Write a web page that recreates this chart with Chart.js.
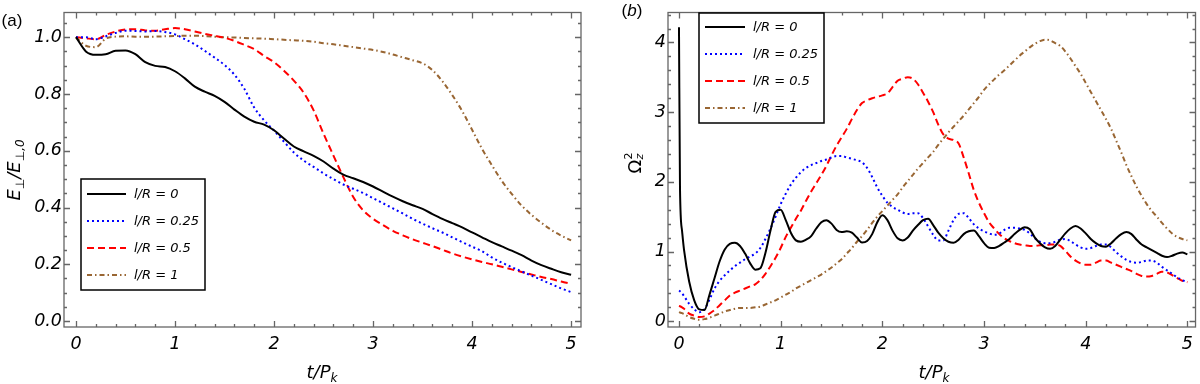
<!DOCTYPE html>
<html>
<head>
<meta charset="utf-8">
<script src="https://cdn.jsdelivr.net/npm/chart.js@4/dist/chart.umd.min.js"></script>
<style>
  html, body { margin: 0; padding: 0; background: #fff; }
  #wrap { position: relative; width: 1200px; height: 384px; overflow: hidden; font-family: "DejaVu Sans", sans-serif; }
  .panel { position: absolute; top: 0; width: 600px; height: 384px; }
  .lbl { position: absolute; white-space: nowrap; color: #000; line-height: 1; transform: translate(-50%, -50%); }
  .ttl { font-size: 18px; font-style: italic; }
  .rot { transform: translate(-50%, -50%) rotate(-90deg); }
  .tag { font-family: "Liberation Sans", Arial, sans-serif; font-size: 17px; }
  .sub { font-size: 12px; position: relative; top: 4px; }
  .stack { display: inline-flex; flex-direction: column; font-size: 11px; line-height: 1; vertical-align: middle; position: relative; top: -2px; }
</style>
</head>
<body>
<div id="wrap">
  <div class="panel" style="left:0"><canvas id="chartA" width="600" height="384"></canvas></div>
  <div class="panel" style="left:600px"><canvas id="chartB" width="600" height="384"></canvas></div>

  <span class="lbl tag" style="left:12px;top:20px">(a)</span>
  <span class="lbl tag" style="left:632px;top:10px">(<i>b</i>)</span>
  <span class="lbl ttl rot" style="left:14px;top:170px">E<span class="sub">⊥</span>/E<span class="sub">⊥,0</span></span>
  <span class="lbl ttl" style="left:322px;top:372px">t/P<span class="sub">k</span></span>
  <span class="lbl ttl rot" style="left:636px;top:163px"><span style="font-style:normal">Ω</span><span class="stack"><span style="font-style:normal">2</span><span>z</span></span></span>
  <span class="lbl ttl" style="left:934px;top:372px">t/P<span class="sub">k</span></span>
</div>

<script>
// ---- panel (a): E_perp / E_perp,0 ----
const tA = [
  0, 0.1, 0.2, 0.3, 0.4, 0.5, 0.6, 0.7, 0.8, 0.9,
  1.0, 1.1, 1.2, 1.3, 1.4, 1.5, 1.6, 1.7, 1.8, 1.9,
  2.0, 2.1, 2.2, 2.3, 2.4, 2.5, 2.6, 2.7, 2.8, 2.9,
  3.0, 3.1, 3.2, 3.3, 3.4, 3.5, 3.6, 3.7, 3.8, 3.9,
  4.0, 4.1, 4.2, 4.3, 4.4, 4.5, 4.6, 4.7, 4.8, 4.9,
  5.0
];
const blackA = [
  1.0, 0.95, 0.938, 0.94, 0.952, 0.953, 0.94, 0.912, 0.899, 0.895,
  0.88, 0.855, 0.826, 0.808, 0.793, 0.772, 0.745, 0.72, 0.702, 0.692,
  0.672, 0.643, 0.615, 0.598, 0.582, 0.562, 0.537, 0.516, 0.503, 0.49,
  0.474, 0.456, 0.438, 0.422, 0.408, 0.395, 0.377, 0.36, 0.345, 0.33,
  0.312, 0.295, 0.278, 0.263, 0.248, 0.232, 0.213, 0.197, 0.184, 0.172,
  0.163
];
const blueA = [
  1.0, 1.0, 0.993, 1.003, 1.015, 1.023, 1.022, 1.02, 1.022, 1.018,
  1.01, 0.993, 0.975, 0.952, 0.928, 0.902, 0.868, 0.818, 0.752, 0.707,
  0.671, 0.632, 0.594, 0.565, 0.543, 0.52, 0.5, 0.481, 0.466, 0.451,
  0.433, 0.415, 0.397, 0.379, 0.36, 0.343, 0.327, 0.312, 0.295, 0.278,
  0.262, 0.246, 0.224, 0.206, 0.19, 0.175, 0.16, 0.145, 0.13, 0.115,
  0.102
];
const redA = [
  1.0, 0.996, 0.993, 1.008, 1.02, 1.027, 1.028, 1.024, 1.023, 1.028,
  1.032, 1.028, 1.02, 1.012, 1.005, 0.998, 0.987, 0.973, 0.958, 0.934,
  0.912, 0.882, 0.847, 0.804, 0.742, 0.66, 0.583, 0.507, 0.437, 0.39,
  0.36, 0.338, 0.318, 0.302, 0.288, 0.276, 0.264, 0.251, 0.238, 0.227,
  0.217, 0.208, 0.2, 0.191, 0.182, 0.173, 0.164, 0.155, 0.148, 0.139,
  0.131
];
const brownA = [
  1.0, 0.97, 0.965, 0.995, 1.002, 1.003, 1.002, 1.002, 1.002, 1.003,
  1.004, 1.005, 1.005, 1.004, 1.002, 1.0, 0.999, 0.997, 0.996, 0.995,
  0.993, 0.991, 0.989, 0.987, 0.984, 0.979, 0.975, 0.97, 0.965, 0.96,
  0.955, 0.948, 0.939, 0.929, 0.919, 0.908, 0.884, 0.845, 0.796, 0.74,
  0.674, 0.607, 0.549, 0.494, 0.448, 0.407, 0.374, 0.346, 0.321, 0.301,
  0.284
];

// ---- panel (b): Omega_z^2 ----
const tB = [
  0, 0.01, 0.03, 0.05, 0.1, 0.15, 0.2, 0.25, 0.3, 0.35, 0.4, 0.45,
  0.5, 0.55, 0.6, 0.65, 0.7, 0.75, 0.8, 0.85, 0.9, 0.95,
  1.0, 1.05, 1.1, 1.15, 1.2, 1.25, 1.3, 1.35, 1.4, 1.45,
  1.5, 1.55, 1.6, 1.65, 1.7, 1.75, 1.8, 1.85, 1.9, 1.95,
  2.0, 2.05, 2.1, 2.15, 2.2, 2.25, 2.3, 2.35, 2.4, 2.45,
  2.5, 2.55, 2.6, 2.65, 2.7, 2.75, 2.8, 2.85, 2.9, 2.95,
  3.0, 3.05, 3.1, 3.15, 3.2, 3.25, 3.3, 3.35, 3.4, 3.45,
  3.5, 3.55, 3.6, 3.65, 3.7, 3.75, 3.8, 3.85, 3.9, 3.95,
  4.0, 4.05, 4.1, 4.15, 4.2, 4.25, 4.3, 4.35, 4.4, 4.45,
  4.5, 4.55, 4.6, 4.65, 4.7, 4.75, 4.8, 4.85, 4.9, 4.95,
  5.0
];
const blackB = [
  4.22, 1.9, 1.3, 1.02, 0.57, 0.3, 0.17, 0.16, 0.38, 0.62, 0.86, 1.03,
  1.11, 1.125, 1.08, 0.97, 0.83, 0.74, 0.76, 0.98, 1.3, 1.57,
  1.6, 1.45, 1.27, 1.16, 1.14, 1.17, 1.22, 1.33, 1.42, 1.45,
  1.4, 1.31, 1.28, 1.29, 1.27, 1.2, 1.13, 1.15, 1.25, 1.42,
  1.52, 1.45, 1.3, 1.19, 1.16, 1.2, 1.3, 1.38, 1.45, 1.47,
  1.38, 1.27, 1.19, 1.14, 1.125, 1.17, 1.25, 1.29, 1.3, 1.22,
  1.12, 1.055, 1.05, 1.08, 1.13, 1.18, 1.25, 1.31, 1.35, 1.32,
  1.2, 1.12, 1.06, 1.04, 1.08, 1.17, 1.26, 1.33, 1.365, 1.33,
  1.26, 1.18, 1.12, 1.08, 1.07, 1.12, 1.19, 1.25, 1.28, 1.25,
  1.17, 1.1, 1.06, 1.02, 0.98, 0.94, 0.92, 0.94, 0.97, 0.985,
  0.96
];
const blueB = [
  0.44, 0.43, 0.4, 0.36, 0.25, 0.17, 0.13, 0.17, 0.31, 0.47, 0.58, 0.66,
  0.73, 0.79, 0.84, 0.89, 0.93, 0.97, 1.05, 1.18, 1.33, 1.5,
  1.68, 1.83, 1.96, 2.06, 2.14, 2.2, 2.24, 2.27, 2.3, 2.32,
  2.35, 2.37, 2.37, 2.35, 2.33, 2.31, 2.28, 2.2, 2.07, 1.92,
  1.8, 1.7, 1.64, 1.6, 1.56, 1.54, 1.55, 1.55, 1.48, 1.36,
  1.24, 1.16, 1.16, 1.3, 1.45, 1.54, 1.55, 1.48, 1.39, 1.33,
  1.29, 1.26, 1.24, 1.26, 1.31, 1.34, 1.34, 1.33, 1.31, 1.26,
  1.19, 1.14, 1.12, 1.12, 1.14, 1.17, 1.18, 1.15, 1.1, 1.06,
  1.04, 1.05, 1.08, 1.1, 1.1, 1.06, 0.99, 0.93, 0.88, 0.85,
  0.84, 0.85, 0.87, 0.87, 0.84, 0.78, 0.73, 0.68, 0.63, 0.59,
  0.56
];
const redB = [
  0.22, 0.215, 0.2, 0.18, 0.11, 0.08, 0.06, 0.07, 0.11, 0.16, 0.23, 0.3,
  0.37, 0.41, 0.44, 0.47, 0.5, 0.53, 0.59, 0.68, 0.79, 0.91,
  1.05, 1.21, 1.34, 1.47, 1.59, 1.73, 1.86, 1.98, 2.1, 2.23,
  2.38, 2.52, 2.64, 2.76, 2.9, 3.03, 3.13, 3.17, 3.2, 3.22,
  3.24, 3.27, 3.36, 3.45, 3.48, 3.5, 3.48, 3.4, 3.28, 3.15,
  3.0, 2.82, 2.68, 2.62, 2.6, 2.55, 2.35, 2.12, 1.88, 1.7,
  1.55, 1.42, 1.33, 1.25, 1.19, 1.15, 1.12, 1.1, 1.09, 1.08,
  1.08, 1.09, 1.09, 1.1, 1.1, 1.08, 1.01, 0.93, 0.87, 0.83,
  0.81, 0.81, 0.84, 0.87, 0.87, 0.84, 0.81, 0.78, 0.75, 0.72,
  0.68, 0.65, 0.64, 0.65, 0.68, 0.71, 0.7, 0.66, 0.62, 0.58,
  0.56
];
const brownB = [
  0.13, 0.125, 0.115, 0.1, 0.06, 0.035, 0.02, 0.03, 0.05, 0.08, 0.11, 0.14,
  0.16, 0.18, 0.19, 0.19, 0.19, 0.2, 0.21, 0.24, 0.27, 0.3,
  0.34, 0.38, 0.42, 0.47, 0.51, 0.55, 0.59, 0.63, 0.67, 0.72,
  0.77, 0.83, 0.89, 0.97, 1.05, 1.14, 1.22, 1.31, 1.41, 1.5,
  1.58, 1.66, 1.74, 1.82, 1.92, 2.01, 2.1, 2.19, 2.27, 2.35,
  2.43, 2.53, 2.62, 2.71, 2.79, 2.87, 2.95, 3.04, 3.13, 3.22,
  3.32, 3.4, 3.47, 3.54, 3.6, 3.67, 3.74, 3.81, 3.87, 3.93,
  3.98, 4.02, 4.04, 4.03, 3.99, 3.95, 3.87, 3.77, 3.66, 3.55,
  3.42, 3.29, 3.16, 3.03, 2.9, 2.76, 2.59, 2.42, 2.24, 2.08,
  1.93, 1.8, 1.68, 1.58, 1.5, 1.41, 1.33, 1.26, 1.21, 1.18,
  1.16
];

const seriesLabels = ['l/R = 0', 'l/R = 0.25', 'l/R = 0.5', 'l/R = 1'];
const xTicks = [0, 1, 2, 3, 4, 5];
const xLabels = ['0', '1', '2', '3', '4', '5'];
const yTicksA = [0, 0.2, 0.4, 0.6, 0.8, 1.0];
const yLabelsA = ['0.0', '0.2', '0.4', '0.6', '0.8', '1.0'];
const yTicksB = [0, 1, 2, 3, 4];
const yLabelsB = ['0', '1', '2', '3', '4'];

const lineStyles = [
  { color: '#000000', dash: [] },
  { color: '#0000ff', dash: [2, 3] },
  { color: '#ff0000', dash: [7, 4] },
  { color: '#996633', dash: [5, 3, 1.5, 3] }
];
const tickFont = { family: 'DejaVu Sans', style: 'italic', size: 17.5 };

// frame with inward ticks on all four sides
const framePlugin = {
  id: 'frame',
  afterDatasetsDraw(chart, args, o) {
    const { ctx, chartArea: a, scales: { x, y } } = chart;
    ctx.save();
    ctx.strokeStyle = '#666';
    ctx.lineWidth = 1.3;
    ctx.setLineDash([]);
    ctx.beginPath();
    for (let i = 0; i <= o.xCount; i++) {
      const px = Math.round(x.getPixelForValue(i * o.xStep)) + 0.5;
      if (px < a.left || px > a.right) continue;
      const len = i % o.xMajor === 0 ? 6 : 3;
      ctx.moveTo(px, a.bottom); ctx.lineTo(px, a.bottom - len);
      ctx.moveTo(px, a.top); ctx.lineTo(px, a.top + len);
    }
    for (let i = 0; i <= o.yCount; i++) {
      const py = Math.round(y.getPixelForValue(i * o.yStep)) + 0.5;
      if (py < a.top || py > a.bottom) continue;
      const len = i % o.yMajor === 0 ? 6 : 3;
      ctx.moveTo(a.left, py); ctx.lineTo(a.left + len, py);
      ctx.moveTo(a.right, py); ctx.lineTo(a.right - len, py);
    }
    ctx.stroke();
    ctx.strokeRect(a.left, a.top, a.right - a.left, a.bottom - a.top);
    ctx.restore();
  }
};

// boxed legend inside the plot
const boxLegend = {
  id: 'boxLegend',
  afterDraw(chart, args, o) {
    const ctx = chart.ctx;
    ctx.save();
    ctx.fillStyle = '#fff';
    ctx.fillRect(o.x, o.y, o.w, o.h);
    ctx.strokeStyle = '#000';
    ctx.lineWidth = 1.5;
    ctx.setLineDash([]);
    ctx.strokeRect(o.x, o.y, o.w, o.h);
    ctx.font = 'italic 13px "DejaVu Sans"';
    ctx.textBaseline = 'middle';
    chart.data.datasets.forEach((ds, i) => {
      const ly = o.row0 + i * o.rowGap;
      ctx.strokeStyle = ds.borderColor;
      ctx.lineWidth = 2;
      ctx.setLineDash(ds.borderDash);
      ctx.beginPath();
      ctx.moveTo(o.s0, ly); ctx.lineTo(o.s1, ly);
      ctx.stroke();
      ctx.fillStyle = '#000';
      ctx.fillText(ds.label, o.tx, ly + 1);
    });
    ctx.restore();
  }
};

function makeChart(id, t, series, cfg) {
  const datasets = series.map((vals, i) => ({
    label: seriesLabels[i],
    data: t.map((tv, k) => ({ x: tv, y: vals[k] })),
    borderColor: lineStyles[i].color,
    borderDash: lineStyles[i].dash,
    borderWidth: 2,
    pointRadius: 0,
    fill: false,
    cubicInterpolationMode: 'monotone'
  }));
  return new Chart(document.getElementById(id), {
    type: 'line',
    data: { datasets },
    options: {
      responsive: false,
      animation: false,
      events: [],
      layout: { padding: cfg.pad },
      plugins: {
        legend: { display: false },
        tooltip: { enabled: false },
        frame: cfg.frame,
        boxLegend: cfg.legend
      },
      scales: {
        x: {
          type: 'linear', min: cfg.xMin, max: cfg.xMax,
          grid: { display: false, drawTicks: false }, border: { display: false },
          afterBuildTicks: s => { s.ticks = xTicks.map(v => ({ value: v })); },
          afterFit: s => { s.height = 57; },
          ticks: { font: tickFont, color: '#000', padding: 7, maxRotation: 0, autoSkip: false,
                   callback: (v, i) => xLabels[i] }
        },
        y: {
          type: 'linear', min: cfg.yMin, max: cfg.yMax,
          grid: { display: false, drawTicks: false }, border: { display: false },
          afterBuildTicks: s => { s.ticks = cfg.yTicks.map(v => ({ value: v })); },
          afterFit: s => { s.width = cfg.yWidth; },
          ticks: { font: tickFont, color: '#000', padding: 2, autoSkip: false,
                   callback: (v, i) => cfg.yLabels[i] }
        }
      }
    },
    plugins: [framePlugin, boxLegend]
  });
}

makeChart('chartA', tA, [blackA, blueA, redA, brownA], {
  pad: { left: 0, right: 19, top: 8, bottom: 0 },
  xMin: -0.121, xMax: 5.10, yMin: -0.021, yMax: 1.087,
  yTicks: yTicksA, yLabels: yLabelsA, yWidth: 64,
  frame: { xStep: 0.2, xCount: 25, xMajor: 5, yStep: 0.05, yCount: 21, yMajor: 4 },
  legend: { x: 81, y: 179, w: 124, h: 111, row0: 194, rowGap: 27, s0: 87, s1: 126, tx: 134 }
});

makeChart('chartB', tB, [blackB, blueB, redB, brownB], {
  pad: { left: 0, right: 3, top: 1, bottom: 0 },
  xMin: -0.108, xMax: 5.08, yMin: -0.083, yMax: 4.43,
  yTicks: yTicksB, yLabels: yLabelsB, yWidth: 68,
  frame: { xStep: 0.2, xCount: 25, xMajor: 5, yStep: 0.2, yCount: 22, yMajor: 5 },
  legend: { x: 99, y: 13, w: 125, h: 110, row0: 27, rowGap: 27, s0: 105, s1: 145, tx: 153 }
});
</script>
</body>
</html>
